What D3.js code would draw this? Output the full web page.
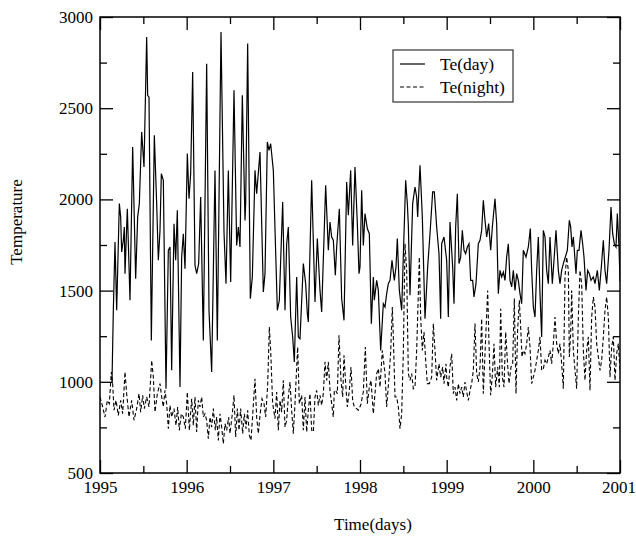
<!DOCTYPE html>
<html><head><meta charset="utf-8">
<script src="https://cdn.jsdelivr.net/npm/d3@7"></script>
<style>body{margin:0;background:#fff}svg{display:block}</style>
</head><body><svg id="c" width="636" height="536"></svg>
<script>
// [week since start of 1995, temperature]
const dayPoints = [[7.2,999],[8,1392],[9,1766],[10,1392],[11.6,1977],[12.4,1903],[13,1712],[14,1776],[14.6,1849],[15,1593],[16.4,1949],[18,1447],[19.6,2287],[21.4,1565],[22.6,1903],[23.6,1977],[25,2370],[26.4,2178],[28,2890],[28.6,2571],[29.4,2561],[30.8,1227],[32.6,2351],[34,1977],[35,1666],[36,1830],[36.8,2141],[38,2105],[39.6,962],[41,1721],[42,1739],[43,1063],[44.4,1867],[45.4,1666],[46.4,1940],[48,971],[49,1684],[50,1812],[51,1620],[52.4,2251],[53.4,2004],[54.4,2141],[55.6,2698],[57,1639],[58,1593],[59.2,1648],[60.4,2013],[62,1227],[64,2744],[65.4,1392],[67,1054],[69,2159],[70.4,1227],[72.6,2918],[74.4,1821],[75.6,1538],[77,2159],[78.4,1547],[80.4,2598],[82,1748],[83,1849],[84,1739],[85.4,2571],[87,1885],[87.4,1977],[88.6,2854],[90.2,1456],[91.4,1575],[93,2159],[94,2031],[96,2260],[98,1492],[99,1593],[100.4,2315],[101.4,2269],[102.4,2305],[104,2159],[106.4,1392],[107.6,1447],[109.6,1986],[111,1392],[112,1757],[113,1849],[114.4,1355],[115.6,1246],[116.6,1109],[118,1575],[119,1246],[120,1236],[122,1648],[123.4,1538],[124.4,1374],[125,1328],[127,2105],[129,1437],[130.4,1785],[132,1501],[133,1383],[135.4,2077],[137,1721],[138,1876],[139,1794],[140,1776],[141.2,1584],[142,1739],[143.6,1949],[145,1456],[146.4,1337],[148,2095],[149,1913],[150.4,2159],[151.6,1748],[153,2178],[154.4,1867],[155.4,1593],[156,1629],[157,2050],[158,1748],[159,1922],[160.4,1840],[161.6,1812],[162.8,1319],[164,1575],[164.6,1447],[166,1556],[167,1501],[168.4,1172],[170,1428],[171,1410],[172,1483],[173,1538],[174,1556],[175.2,1666],[176.6,1556],[177.6,1629],[178.4,1785],[179.6,1501],[181,1392],[183.4,2105],[184.4,1977],[185,1858],[186,1474],[187.6,1977],[189,2068],[190,2013],[190.6,1903],[192,2187],[193.4,1903],[195,1346],[196.6,1629],[198,1812],[199.6,2041],[200.6,2041],[202,1849],[203.4,1702],[204.4,1346],[205,1757],[206.4,1794],[208,1666],[209,1355],[210,1876],[211.6,1629],[212.4,1428],[213.4,1849],[214.4,2031],[215.4,1648],[216.4,1684],[217.4,1830],[218.4,1721],[219.4,1702],[220.4,1739],[221.4,1757],[222.4,1556],[223.6,1556],[224.4,1465],[225.6,1538],[227,1757],[228,1776],[229,1830],[230,1995],[231,1885],[232,1794],[233.2,1867],[234.4,1721],[235.4,1849],[237,2004],[238,1867],[239,1483],[240,1611],[241,1575],[242,1602],[243,1556],[244,1684],[245,1757],[246,1556],[247,1520],[248,1611],[249,1501],[250,1593],[251,1556],[252,1483],[253,1428],[254,1721],[255.6,1684],[257,1739],[258.2,1840],[259,1611],[260,1410],[261,1355],[262,1611],[263,1794],[264,1483],[265,1246],[266,1830],[267,1794],[268,1611],[269,1538],[270,1794],[271.4,1538],[272.4,1666],[273.6,1830],[275,1611],[276,1538],[277,1611],[278,1648],[279.2,1684],[280.4,1721],[281.6,1885],[282.4,1849],[283.2,1739],[284,1794],[284.6,1721],[285.6,1593],[286.4,1721],[287.4,1721],[288.6,1830],[289.6,1757],[290.4,1684],[291.6,1501],[292.6,1611],[293.6,1593],[294.6,1556],[296,1575],[297,1538],[298.4,1611],[299.6,1501],[300.8,1629],[302,1776],[303,1611],[304,1538],[305.4,1721],[306.6,1958],[307.6,1812],[308.6,1757],[309.6,1739],[310.4,1922],[311.4,1739],[312,1550]];

const nightPoints = [[0,917],[1.6,862],[3,807],[4.4,898],[5.6,880],[6.8,1054],[7.6,990],[8.4,844],[9.6,898],[11,816],[12.4,898],[13.6,825],[15,1054],[16,935],[17.4,807],[19,898],[20.4,789],[22,853],[23.4,935],[24.4,834],[25.6,926],[26.6,853],[28,917],[29.4,862],[31,1118],[32,1026],[33,834],[34.4,935],[36,990],[37,917],[38,862],[39,953],[40,880],[41,743],[42,871],[43,807],[44.4,853],[45.6,761],[46.6,862],[47.6,734],[48.8,825],[50,807],[51.2,743],[52.4,944],[53.6,734],[55,907],[56,761],[57,917],[58,725],[59,898],[60,862],[61,917],[62,807],[63,825],[64,789],[65,688],[66,807],[67,752],[68,853],[69.2,734],[70,807],[71,679],[72,825],[73,752],[74,661],[75,770],[76,734],[77.2,807],[78,716],[79.4,825],[80.4,926],[81.4,697],[82.4,853],[83.4,734],[84.4,853],[85.6,716],[86.6,825],[87.6,743],[88.6,844],[89.6,707],[90.6,679],[91.6,816],[93,1017],[94,807],[95,716],[96,816],[97.2,907],[98.4,880],[99.4,807],[100.6,981],[101.6,1300],[102.4,1172],[103.6,880],[105,798],[106,944],[107,734],[108,898],[109,834],[110,1008],[111,752],[112,789],[113,917],[114,999],[115,844],[116,716],[117,880],[118,1081],[118.6,1191],[119.6,880],[121,926],[122,734],[123,917],[124,725],[125,844],[126,935],[127,734],[128,725],[129,917],[130,953],[131,871],[132,926],[133,871],[134,935],[135,1109],[136,1008],[137,1109],[138,953],[139,880],[140,807],[140.6,953],[141.4,953],[142.4,935],[143.4,1255],[144.6,1008],[145.6,917],[146.4,1145],[147.4,990],[148.4,862],[149.6,953],[150.6,1081],[151.6,898],[152.6,862],[154,853],[155,844],[156.4,871],[158,944],[159.2,1191],[160.4,880],[161.6,971],[162.6,1008],[164,825],[165,935],[166,1045],[167,1072],[168,971],[169.4,1172],[171,1045],[172,862],[173.4,1026],[174.4,1163],[175.4,1410],[176,1246],[177,917],[178,917],[179,862],[180,743],[181,825],[182,1163],[183,1757],[184,1611],[185,1045],[186,1008],[187,1045],[188,962],[189,971],[190,1172],[191,1483],[191.6,1684],[192.4,1355],[193.4,1172],[194.4,1273],[195.4,1118],[196.4,990],[197.6,990],[199,1026],[200,1319],[201,1172],[202,1008],[203.4,1099],[204.4,1026],[205.6,1081],[206.4,990],[207.6,1099],[208,1026],[209,971],[210,1081],[211,1154],[212,935],[213,971],[214,898],[215,990],[216,935],[217,971],[218,917],[219,999],[220,944],[221,898],[222,953],[223,990],[224,1063],[225,1319],[226,1045],[227,999],[228,1081],[229,1346],[230,935],[231,1154],[231.6,1282],[232.6,1501],[233.4,1209],[234.4,926],[235.4,1035],[236.4,1209],[237.4,971],[238.6,1081],[239.6,971],[240.4,1401],[241.4,1026],[242.4,971],[243.4,1273],[244.4,1118],[245.4,990],[246.6,1081],[247.6,1099],[248.6,1456],[249.6,935],[250.6,1291],[251.6,1447],[252.4,1300],[253.2,1136],[254,1172],[255,1154],[256,1209],[257,1300],[258,1191],[259,990],[260,1026],[261,1063],[262,1118],[263,1172],[264,1246],[265,1063],[266,1072],[267,1118],[268,1099],[269,1136],[270,1172],[271,1099],[272,1209],[273,1355],[274,1209],[275,1154],[276,1209],[277,1099],[278,962],[279,1575],[280,1684],[281,1611],[281.6,1136],[282.4,1264],[283,1501],[284,1172],[285,1063],[286,962],[287,1355],[288,1611],[289,1538],[290,1172],[291,1008],[292,1172],[293,1246],[294,953],[295,1355],[296,1465],[297,1410],[298,1209],[299,1136],[300,1063],[301,1118],[302,1246],[303,1392],[304,1465],[305,1355],[306,1026],[307,1191],[308,1246],[309,1008],[310,1154],[311,1209],[312,1063]];

const yearTicks = [1995, 1996, 1997, 1998, 1999, 2000, 2001];
const tempTicks = [500, 1000, 1500, 2000, 2500, 3000];
const seriesNames = ["Te(day)", "Te(night)"];
const xTitle = "Time(days)";
const yTitle = "Temperature";
const weeksPerYear = 52;

const L = 100, R = 620, T = 17, B = 473;
const FONT = "'Liberation Serif','Times New Roman',serif";
const FS = 17;
const svg = d3.select("#c");

const x = d3.scaleLinear().domain([1995, 2001]).range([L, R]);
const y = d3.scaleLinear().domain([500, 3000]).range([B, T]);
const toYear = w => 1995 + w / weeksPerYear;

svg.append("defs").append("clipPath").attr("id", "clip")
  .append("rect").attr("x", L).attr("y", T).attr("width", R - L).attr("height", B - T);

const line = d3.line().x(d => x(toYear(d[0]))).y(d => y(d[1]));

const g = svg.append("g").attr("clip-path", "url(#clip)");
g.append("path").datum(nightPoints).attr("d", line)
  .attr("fill", "none").attr("stroke", "#000").attr("stroke-width", 1.1)
  .attr("stroke-dasharray", "4,2.5");
g.append("path").datum(dayPoints).attr("d", line)
  .attr("fill", "none").attr("stroke", "#000").attr("stroke-width", 1.2);

const xMinor = d3.range(1995.5, 2001, 1);
const yMinor = d3.range(750, 3000, 500);

function styleAxis(sel) {
  sel.select(".domain").remove();
  sel.selectAll(".tick line").attr("stroke", "#000").attr("stroke-width", 1.3);
  sel.selectAll(".tick text").attr("font-family", FONT).attr("font-size", FS).attr("fill", "#000");
}

// bottom
const gb = svg.append("g").attr("transform", `translate(0,${B})`)
  .call(d3.axisBottom(x).tickValues(yearTicks).tickFormat(d3.format("d")).tickSizeInner(-13).tickSizeOuter(0).tickPadding(8));
styleAxis(gb);
gb.selectAll(".tick text").filter(d => d === 2001).attr("dx", -1.5);
svg.append("g").attr("transform", `translate(0,${B})`)
  .call(d3.axisBottom(x).tickValues(xMinor).tickFormat("").tickSizeInner(-7).tickSizeOuter(0)).call(styleAxis);
// top
svg.append("g").attr("transform", `translate(0,${T})`)
  .call(d3.axisTop(x).tickValues(yearTicks).tickFormat("").tickSizeInner(-13).tickSizeOuter(0)).call(styleAxis);
svg.append("g").attr("transform", `translate(0,${T})`)
  .call(d3.axisTop(x).tickValues(xMinor).tickFormat("").tickSizeInner(-7).tickSizeOuter(0)).call(styleAxis);
// left
const gl = svg.append("g").attr("transform", `translate(${L},0)`)
  .call(d3.axisLeft(y).tickValues(tempTicks).tickFormat(d3.format("d")).tickSizeInner(-13).tickSizeOuter(0).tickPadding(7));
styleAxis(gl);
svg.append("g").attr("transform", `translate(${L},0)`)
  .call(d3.axisLeft(y).tickValues(yMinor).tickFormat("").tickSizeInner(-7).tickSizeOuter(0)).call(styleAxis);
// right
svg.append("g").attr("transform", `translate(${R},0)`)
  .call(d3.axisRight(y).tickValues(tempTicks).tickFormat("").tickSizeInner(-13).tickSizeOuter(0)).call(styleAxis);
svg.append("g").attr("transform", `translate(${R},0)`)
  .call(d3.axisRight(y).tickValues(yMinor).tickFormat("").tickSizeInner(-7).tickSizeOuter(0)).call(styleAxis);

// frame
svg.append("rect").attr("x", L).attr("y", T).attr("width", R - L).attr("height", B - T)
  .attr("fill", "none").attr("stroke", "#000").attr("stroke-width", 1.5);

// titles
svg.append("text").attr("x", 373).attr("y", 530).attr("text-anchor", "middle")
  .attr("font-family", FONT).attr("font-size", FS).text(xTitle);
svg.append("text").attr("transform", "translate(22,222) rotate(-90)").attr("text-anchor", "middle")
  .attr("font-family", FONT).attr("font-size", FS).text(yTitle);

// legend
const lg = svg.append("g");
lg.append("rect").attr("x", 393).attr("y", 50).attr("width", 120).attr("height", 52)
  .attr("fill", "#fff").attr("stroke", "#333").attr("stroke-width", 1.2);
seriesNames.forEach((name, i) => {
  const yy = 64 + i * 23;
  lg.append("line").attr("x1", 400).attr("x2", 425).attr("y1", yy).attr("y2", yy)
    .attr("stroke", "#000").attr("stroke-width", 1.2)
    .attr("stroke-dasharray", i === 1 ? "4,2.5" : null);
  lg.append("text").attr("x", 440).attr("y", yy + 6).attr("font-family", FONT)
    .attr("font-size", FS + 0.5).text(name);
});
</script></body></html>
